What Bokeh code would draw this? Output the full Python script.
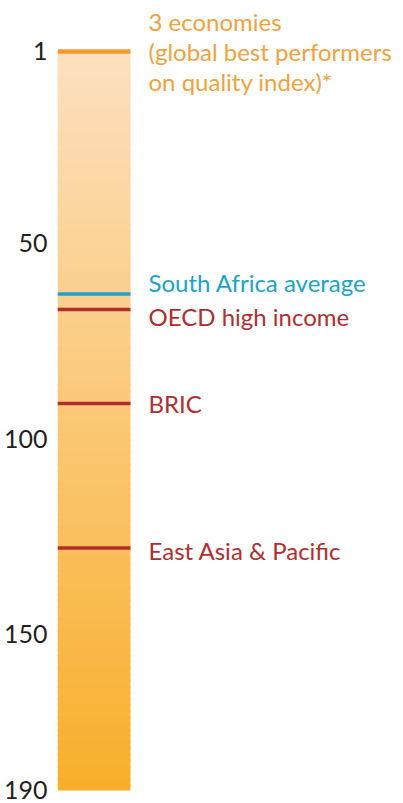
from bokeh.plotting import figure
from bokeh.models import Range1d, FixedTicker
from bokeh.core.properties import value
from bokeh.embed import file_html
from bokeh.resources import INLINE
import numpy as np

# ---- data ----
groups = ["3 economies\n(global best performers\non quality index)*",
          "South Africa average", "OECD high income", "BRIC",
          "East Asia & Pacific"]
ranks = [1, 63, 67, 91, 128]
rank_min = 1
rank_max = 190
tick_values = [1, 50, 100, 150, 190]
tick_labels = ["1", "50", "100", "150", "190"]

# ---- styling ----
line_colors = ["#F39A2B", "#1BA3CB", "#B22E2E", "#B22E2E", "#B22E2E"]
text_colors = ["#F2A23C", "#1BA3CB", "#B22E2E", "#B22E2E", "#B22E2E"]
line_widths = [4.5, 3.5, 3.5, 3.5, 3.5]
label_dy = [0, -11, 7, 0, 2]
FONT = "Lato"

p = figure(width=403, height=803, output_backend="svg", toolbar_location=None,
           x_axis_location=None, y_axis_location="left",
           x_range=Range1d(0, 346), y_range=Range1d(193.33, -12.04),
           min_border_left=57, min_border_right=0, min_border_top=0,
           min_border_bottom=0)
p.outline_line_color = None
p.grid.visible = False
p.background_fill_color = "white"

# gradient bar
bar_x0, bar_x1 = 0, 73
n = 120
edges = np.linspace(rank_min, rank_max, n + 1)
top_rgb = np.array([253, 224, 192])
bot_rgb = np.array([248, 175, 42])
cols = []
for i in range(n):
    t = (i + 0.5) / n
    c = (top_rgb * (1 - t) + bot_rgb * t).round().astype(int)
    cols.append("#%02x%02x%02x" % tuple(c))
bottoms = np.minimum(edges[1:] + 0.4, rank_max)
p.quad(left=bar_x0, right=bar_x1, top=edges[:-1], bottom=bottoms,
       fill_color=cols, line_color=None)

# marker lines
p.segment(x0=[bar_x0] * len(ranks), x1=[bar_x1] * len(ranks), y0=ranks, y1=ranks,
          line_color=line_colors, line_width=line_widths)

# labels
p.text(x=[91] * len(ranks), y=ranks, text=groups, y_offset=label_dy,
       text_color=text_colors, text_font=value(FONT), text_font_size="24px",
       text_baseline="middle", text_align="left", text_line_height=1.05)

# axis
ax = p.yaxis[0]
ax.ticker = FixedTicker(ticks=tick_values)
ax.major_label_overrides = {v: l for v, l in zip(tick_values, tick_labels)}
ax.axis_line_color = None
ax.major_tick_line_color = None
ax.minor_tick_line_color = None
ax.major_tick_in = 0
ax.major_tick_out = 0
ax.major_label_text_font = FONT
ax.major_label_text_font_size = "25px"
ax.major_label_text_color = "#231F20"
ax.major_label_standoff = 10

open("out.html", "w").write(file_html(p, INLINE))
